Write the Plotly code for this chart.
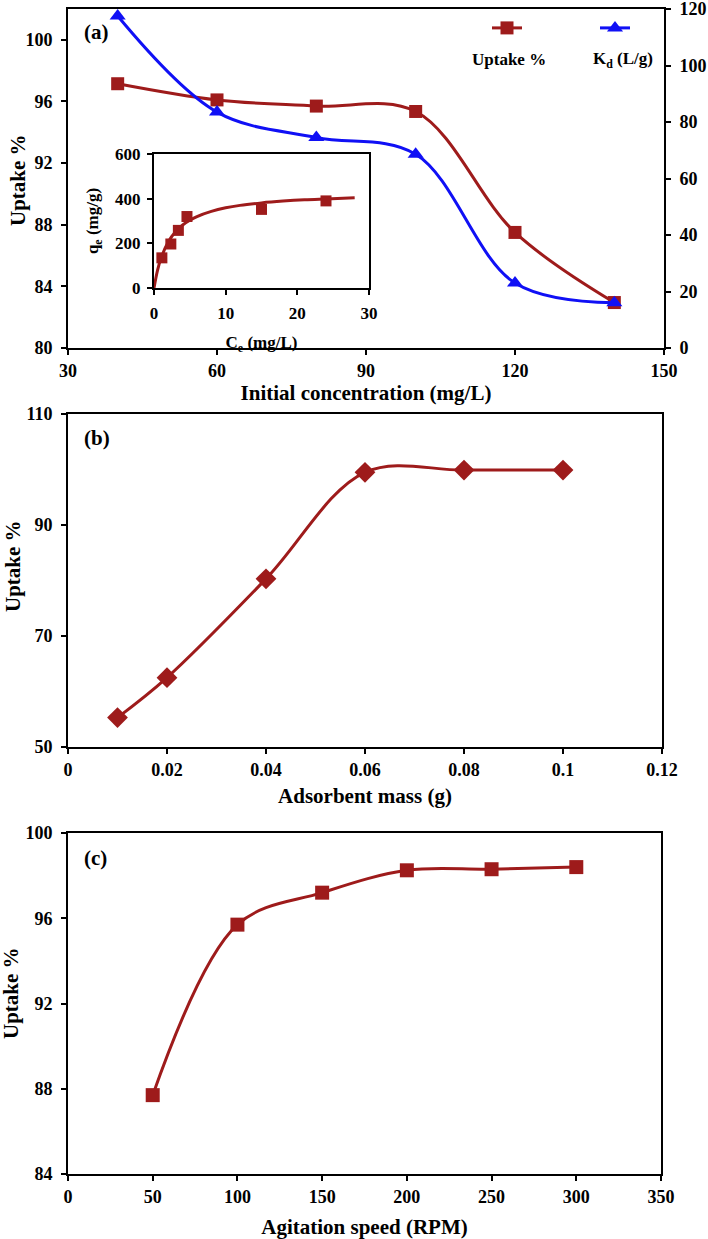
import plotly.graph_objects as go

# ---------------- data ----------------
# Panel (a)
conc = [40, 60, 80, 100, 120, 140]
uptake_a = [97.15, 96.1, 95.7, 95.35, 87.5, 82.95]
kd = [117.5, 83.5, 74.5, 68.6, 23.0, 16.0]

# Inset of (a)
ce_pts = [1.1, 2.35, 3.4, 4.6, 15.0, 24.0]
qe_pts = [135, 197, 258, 320, 352, 390]
ce_fit = [0, 0.5, 1, 2, 3, 4, 5, 6, 8, 10, 12, 15, 18, 21, 24, 28]
qe_fit = [0, 80, 135, 207, 252, 282, 303, 320, 343, 359, 370, 381, 389, 395, 399, 404]

# Panel (b)
mass = [0.01, 0.02, 0.04, 0.06, 0.08, 0.1]
uptake_b = [55.3, 62.5, 80.3, 99.5, 99.9, 99.9]

# Panel (c)
speed = [50, 100, 150, 200, 250, 300]
uptake_c = [87.7, 95.7, 97.2, 98.25, 98.3, 98.4]

RED = "#9E1B1B"
BLUE = "#1010F5"
FONT = "Liberation Serif"
W, H = 708, 1239
OFF = 0  # body margin removed by post_script


def px_x(p):
    return min(max((p - OFF) / W, 0.0), 1.0)


def px_y(p):
    return min(max(1 - (p - OFF) / H, 0.0), 1.0)


fig = go.Figure()

# (a) uptake
fig.add_trace(go.Scatter(x=conc, y=uptake_a, mode="lines+markers", name=" ",
                         line=dict(color=RED, width=3, shape="spline", smoothing=1),
                         marker=dict(symbol="square", size=13, color=RED),
                         xaxis="x", yaxis="y", showlegend=True, legendrank=1))
# (a) Kd
fig.add_trace(go.Scatter(x=conc, y=kd, mode="lines+markers", name="  ",
                         line=dict(color=BLUE, width=3, shape="spline", smoothing=1),
                         marker=dict(symbol="triangle-up", size=14, color=BLUE),
                         xaxis="x", yaxis="y2", showlegend=True, legendrank=2))
# inset
fig.add_trace(go.Scatter(x=ce_fit, y=qe_fit, mode="lines",
                         line=dict(color=RED, width=3, shape="spline", smoothing=1),
                         xaxis="x4", yaxis="y5", showlegend=False))
fig.add_trace(go.Scatter(x=ce_pts, y=qe_pts, mode="markers",
                         marker=dict(symbol="square", size=11, color=RED),
                         xaxis="x4", yaxis="y5", showlegend=False))
# (b)
fig.add_trace(go.Scatter(x=mass, y=uptake_b, mode="lines+markers",
                         line=dict(color=RED, width=3, shape="spline", smoothing=1),
                         marker=dict(symbol="diamond", size=16, color=RED),
                         xaxis="x2", yaxis="y3", showlegend=False))
# (c)
fig.add_trace(go.Scatter(x=speed, y=uptake_c, mode="lines+markers",
                         line=dict(color=RED, width=3, shape="spline", smoothing=1),
                         marker=dict(symbol="square", size=14, color=RED),
                         xaxis="x3", yaxis="y4", showlegend=False))

tickfont = dict(family=FONT, size=18, color="black", weight="bold")
titlefont = dict(family=FONT, size=21, color="black", weight="bold")
insettick = dict(family=FONT, size=17, color="black", weight="bold")
insettitle = dict(family=FONT, size=17, color="black", weight="bold")

axcommon = dict(showline=True, linecolor="black", linewidth=2, ticks="outside",
                tickwidth=2, ticklen=5, tickcolor="black", showgrid=False,
                zeroline=False, automargin=False, ticklabeloverflow="allow")

dom_x_a = [px_x(68), px_x(664)]
dom_y_a = [px_y(348), px_y(9)]
dom_x_b = [px_x(68), px_x(662)]
dom_y_b = [px_y(747), px_y(414)]
dom_x_c = [px_x(68), px_x(661)]
dom_y_c = [px_y(1174), px_y(833)]
dom_x_i = [px_x(154), px_x(369)]
dom_y_i = [px_y(288), px_y(154)]

fig.update_layout(
    template="none",
    width=W, height=H, autosize=False,
    margin=dict(l=0, r=0, t=0, b=0, pad=0, autoexpand=False),
    paper_bgcolor="white", plot_bgcolor="white",
    font=dict(family=FONT, color="black"),
    xaxis=dict(**axcommon, tickfont=tickfont, domain=dom_x_a, range=[30, 150],
               tickvals=[30, 60, 90, 120, 150], mirror=True, anchor="y",
               title=dict(text="Initial concentration (mg/L)", font=titlefont, standoff=4)),
    yaxis=dict(**axcommon, tickfont=tickfont, domain=dom_y_a, range=[80, 102],
               tickvals=[80, 84, 88, 92, 96, 100], anchor="x", ticklabelstandoff=5),
    yaxis2=dict(**axcommon, tickfont=tickfont, domain=dom_y_a, range=[0, 120],
                tickvals=[0, 20, 40, 60, 80, 100, 120], ticklabelstandoff=5,
                overlaying="y", side="right", anchor="x"),
    xaxis2=dict(**axcommon, tickfont=tickfont, domain=dom_x_b, range=[0, 0.12],
                tickvals=[0, 0.02, 0.04, 0.06, 0.08, 0.1, 0.12],
                ticktext=["0", "0.02", "0.04", "0.06", "0.08", "0.1", "0.12"],
                mirror=True, anchor="y3",
                title=dict(text="Adsorbent mass (g)", font=titlefont, standoff=10)),
    yaxis3=dict(**axcommon, tickfont=tickfont, domain=dom_y_b, range=[50, 110],
                tickvals=[50, 70, 90, 110], mirror=True, anchor="x2", ticklabelstandoff=5),
    xaxis3=dict(**axcommon, tickfont=tickfont, domain=dom_x_c, range=[0, 350],
                tickvals=[0, 50, 100, 150, 200, 250, 300, 350],
                mirror=True, anchor="y4",
                title=dict(text="Agitation speed (RPM)", font=titlefont, standoff=15)),
    yaxis4=dict(**axcommon, tickfont=tickfont, domain=dom_y_c, range=[84, 100],
                tickvals=[84, 88, 92, 96, 100], mirror=True, anchor="x3", ticklabelstandoff=5),
    xaxis4=dict(**axcommon, tickfont=insettick, domain=dom_x_i, range=[0, 30],
                tickvals=[0, 10, 20, 30], mirror=True, anchor="y5", ticklabelstandoff=4,
                title=dict(text="C<sub>e</sub> (mg/L)", font=insettitle, standoff=14)),
    yaxis5=dict(**axcommon, tickfont=insettick, domain=dom_y_i, range=[0, 600],
                tickvals=[0, 200, 400, 600], mirror=True, anchor="x4", ticklabelstandoff=3,
                title=dict(text="q<sub>e</sub> (mg/g)", font=insettitle, standoff=12)),
    legend=dict(orientation="h", x=px_x(487), y=px_y(11), xanchor="left", yanchor="top",
                entrywidth=63, entrywidthmode="pixels", bgcolor="rgba(0,0,0,0)",
                borderwidth=0, font=dict(family=FONT, size=16, color="black")),
    showlegend=True,
)

# rotated y-axis titles
for xx, yy in [(18, 180), (13, 566), (11, 993)]:
    fig.add_annotation(text="Uptake %", x=px_x(xx), y=px_y(yy), xref="paper", yref="paper",
                       showarrow=False, font=titlefont, textangle=-90,
                       xanchor="center", yanchor="middle")

ann_font = dict(family=FONT, size=17, color="black", weight="bold")
fig.add_annotation(text="Uptake %", x=px_x(509), y=px_y(60), xref="paper", yref="paper",
                   showarrow=False, font=ann_font, xanchor="center", yanchor="middle")
fig.add_annotation(text="K<sub>d</sub> (L/g)", x=px_x(623), y=px_y(60), xref="paper", yref="paper",
                   showarrow=False, font=ann_font, xanchor="center", yanchor="middle")
panel_font = dict(family=FONT, size=21, color="black", weight="bold")
for lab, yy in [("(a)", 32), ("(b)", 438), ("(c)", 858)]:
    fig.add_annotation(text=lab, x=px_x(82), y=px_y(yy), xref="paper", yref="paper",
                       showarrow=False, font=panel_font, xanchor="left", yanchor="middle")

fig.write_html("out.html", config={"displayModeBar": False},
               post_script="document.body.style.margin='0px';document.body.style.padding='0px';")
